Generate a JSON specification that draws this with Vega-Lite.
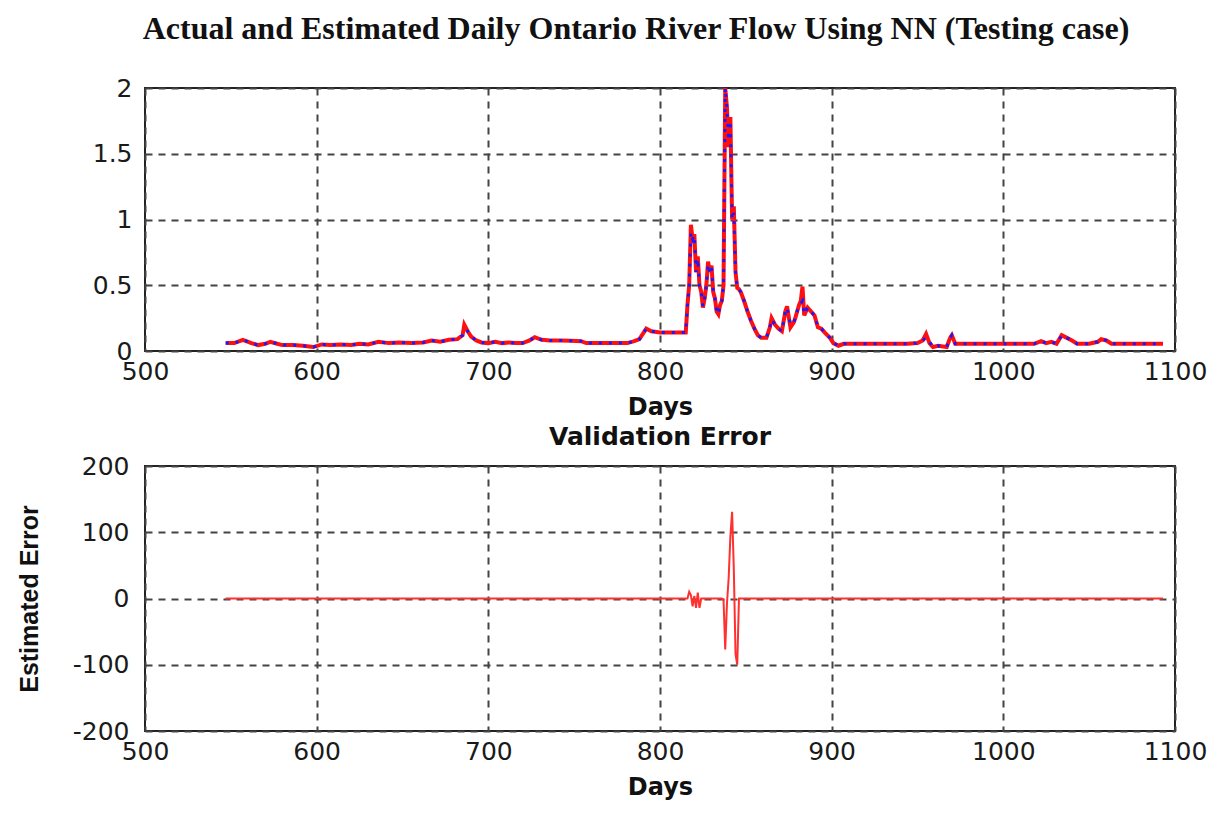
{
  "$schema": "https://vega.github.io/schema/vega-lite/v6.json",
  "background": "white",
  "padding": {"left": 16, "top": 13, "right": 5, "bottom": 5},
  "title": {
    "text": "Actual and Estimated Daily Ontario River Flow Using NN (Testing case)",
    "font": "Liberation Serif",
    "fontSize": 32,
    "fontWeight": "bold",
    "color": "#111",
    "anchor": "middle",
    "offset": 29,
    "dx": 24
  },
  "datasets": {
    "flow": [
      {"day": 547, "actual": 0.06, "estimated": 0.06},
      {"day": 552, "actual": 0.06, "estimated": 0.06},
      {"day": 557, "actual": 0.085, "estimated": 0.085},
      {"day": 562, "actual": 0.06, "estimated": 0.06},
      {"day": 566, "actual": 0.045, "estimated": 0.045},
      {"day": 570, "actual": 0.055, "estimated": 0.055},
      {"day": 573, "actual": 0.07, "estimated": 0.07},
      {"day": 577, "actual": 0.055, "estimated": 0.055},
      {"day": 580, "actual": 0.045, "estimated": 0.045},
      {"day": 586, "actual": 0.045, "estimated": 0.045},
      {"day": 592, "actual": 0.04, "estimated": 0.04},
      {"day": 598, "actual": 0.03, "estimated": 0.03},
      {"day": 603, "actual": 0.05, "estimated": 0.05},
      {"day": 608, "actual": 0.045, "estimated": 0.045},
      {"day": 614, "actual": 0.05, "estimated": 0.05},
      {"day": 620, "actual": 0.045, "estimated": 0.045},
      {"day": 625, "actual": 0.055, "estimated": 0.055},
      {"day": 630, "actual": 0.05, "estimated": 0.05},
      {"day": 636, "actual": 0.07, "estimated": 0.07},
      {"day": 642, "actual": 0.06, "estimated": 0.06},
      {"day": 648, "actual": 0.065, "estimated": 0.065},
      {"day": 655, "actual": 0.06, "estimated": 0.06},
      {"day": 662, "actual": 0.065, "estimated": 0.065},
      {"day": 667, "actual": 0.08, "estimated": 0.08},
      {"day": 672, "actual": 0.07, "estimated": 0.07},
      {"day": 677, "actual": 0.085, "estimated": 0.085},
      {"day": 682, "actual": 0.09, "estimated": 0.09},
      {"day": 685, "actual": 0.12, "estimated": 0.12},
      {"day": 686, "actual": 0.2, "estimated": 0.16},
      {"day": 688, "actual": 0.15, "estimated": 0.15},
      {"day": 690, "actual": 0.11, "estimated": 0.11},
      {"day": 693, "actual": 0.08, "estimated": 0.08},
      {"day": 696, "actual": 0.065, "estimated": 0.065},
      {"day": 700, "actual": 0.06, "estimated": 0.06},
      {"day": 704, "actual": 0.07, "estimated": 0.07},
      {"day": 708, "actual": 0.06, "estimated": 0.06},
      {"day": 712, "actual": 0.065, "estimated": 0.065},
      {"day": 716, "actual": 0.06, "estimated": 0.06},
      {"day": 720, "actual": 0.06, "estimated": 0.06},
      {"day": 724, "actual": 0.08, "estimated": 0.08},
      {"day": 727, "actual": 0.105, "estimated": 0.105},
      {"day": 731, "actual": 0.085, "estimated": 0.085},
      {"day": 736, "actual": 0.08, "estimated": 0.08},
      {"day": 742, "actual": 0.08, "estimated": 0.08},
      {"day": 748, "actual": 0.078, "estimated": 0.078},
      {"day": 754, "actual": 0.075, "estimated": 0.075},
      {"day": 757, "actual": 0.06, "estimated": 0.06},
      {"day": 764, "actual": 0.06, "estimated": 0.06},
      {"day": 770, "actual": 0.06, "estimated": 0.06},
      {"day": 776, "actual": 0.06, "estimated": 0.06},
      {"day": 781, "actual": 0.06, "estimated": 0.06},
      {"day": 785, "actual": 0.075, "estimated": 0.075},
      {"day": 788, "actual": 0.09, "estimated": 0.09},
      {"day": 790, "actual": 0.13, "estimated": 0.13},
      {"day": 792, "actual": 0.17, "estimated": 0.17},
      {"day": 795, "actual": 0.15, "estimated": 0.15},
      {"day": 800, "actual": 0.14, "estimated": 0.14},
      {"day": 805, "actual": 0.14, "estimated": 0.14},
      {"day": 810, "actual": 0.14, "estimated": 0.14},
      {"day": 815, "actual": 0.14, "estimated": 0.14},
      {"day": 816, "actual": 0.35, "estimated": 0.35},
      {"day": 817, "actual": 0.5, "estimated": 0.5},
      {"day": 818, "actual": 0.96, "estimated": 0.9},
      {"day": 819, "actual": 0.85, "estimated": 0.85},
      {"day": 820, "actual": 0.89, "estimated": 0.88},
      {"day": 821, "actual": 0.6, "estimated": 0.6},
      {"day": 822, "actual": 0.72, "estimated": 0.7},
      {"day": 823, "actual": 0.5, "estimated": 0.5},
      {"day": 824, "actual": 0.45, "estimated": 0.45},
      {"day": 825, "actual": 0.33, "estimated": 0.34},
      {"day": 826, "actual": 0.4, "estimated": 0.4},
      {"day": 827, "actual": 0.5, "estimated": 0.5},
      {"day": 828, "actual": 0.68, "estimated": 0.66},
      {"day": 829, "actual": 0.6, "estimated": 0.6},
      {"day": 830, "actual": 0.65, "estimated": 0.64},
      {"day": 831, "actual": 0.45, "estimated": 0.45},
      {"day": 832, "actual": 0.4, "estimated": 0.4},
      {"day": 833, "actual": 0.3, "estimated": 0.3},
      {"day": 834, "actual": 0.28, "estimated": 0.28},
      {"day": 835, "actual": 0.35, "estimated": 0.35},
      {"day": 836, "actual": 0.38, "estimated": 0.38},
      {"day": 837, "actual": 0.5, "estimated": 0.5},
      {"day": 838, "actual": 2.0, "estimated": 2.0},
      {"day": 839, "actual": 1.85, "estimated": 1.85},
      {"day": 840, "actual": 1.55, "estimated": 1.6},
      {"day": 841, "actual": 1.78, "estimated": 1.75},
      {"day": 842, "actual": 1.0, "estimated": 1.0},
      {"day": 843, "actual": 1.1, "estimated": 1.05},
      {"day": 844, "actual": 0.6, "estimated": 0.6},
      {"day": 845, "actual": 0.48, "estimated": 0.48},
      {"day": 846, "actual": 0.47, "estimated": 0.47},
      {"day": 847, "actual": 0.45, "estimated": 0.45},
      {"day": 849, "actual": 0.38, "estimated": 0.38},
      {"day": 851, "actual": 0.3, "estimated": 0.3},
      {"day": 853, "actual": 0.23, "estimated": 0.23},
      {"day": 855, "actual": 0.17, "estimated": 0.17},
      {"day": 857, "actual": 0.12, "estimated": 0.12},
      {"day": 859, "actual": 0.1, "estimated": 0.1},
      {"day": 862, "actual": 0.1, "estimated": 0.1},
      {"day": 864, "actual": 0.18, "estimated": 0.18},
      {"day": 865, "actual": 0.25, "estimated": 0.24},
      {"day": 867, "actual": 0.2, "estimated": 0.2},
      {"day": 869, "actual": 0.17, "estimated": 0.17},
      {"day": 871, "actual": 0.15, "estimated": 0.15},
      {"day": 873, "actual": 0.3, "estimated": 0.3},
      {"day": 874, "actual": 0.34, "estimated": 0.33},
      {"day": 876, "actual": 0.18, "estimated": 0.2},
      {"day": 878, "actual": 0.22, "estimated": 0.22},
      {"day": 879, "actual": 0.26, "estimated": 0.26},
      {"day": 881, "actual": 0.35, "estimated": 0.35},
      {"day": 882, "actual": 0.38, "estimated": 0.36},
      {"day": 883, "actual": 0.49, "estimated": 0.38},
      {"day": 884, "actual": 0.27, "estimated": 0.28},
      {"day": 886, "actual": 0.33, "estimated": 0.33},
      {"day": 888, "actual": 0.3, "estimated": 0.3},
      {"day": 890, "actual": 0.27, "estimated": 0.27},
      {"day": 892, "actual": 0.18, "estimated": 0.18},
      {"day": 894, "actual": 0.17, "estimated": 0.17},
      {"day": 896, "actual": 0.14, "estimated": 0.14},
      {"day": 899, "actual": 0.1, "estimated": 0.1},
      {"day": 901, "actual": 0.06, "estimated": 0.06},
      {"day": 904, "actual": 0.04, "estimated": 0.04},
      {"day": 907, "actual": 0.055, "estimated": 0.055},
      {"day": 912, "actual": 0.055, "estimated": 0.055},
      {"day": 918, "actual": 0.055, "estimated": 0.055},
      {"day": 925, "actual": 0.055, "estimated": 0.055},
      {"day": 932, "actual": 0.055, "estimated": 0.055},
      {"day": 938, "actual": 0.055, "estimated": 0.055},
      {"day": 944, "actual": 0.055, "estimated": 0.055},
      {"day": 950, "actual": 0.06, "estimated": 0.06},
      {"day": 953, "actual": 0.08, "estimated": 0.08},
      {"day": 955, "actual": 0.13, "estimated": 0.1},
      {"day": 957, "actual": 0.06, "estimated": 0.07},
      {"day": 959, "actual": 0.03, "estimated": 0.03},
      {"day": 962, "actual": 0.04, "estimated": 0.04},
      {"day": 967, "actual": 0.03, "estimated": 0.03},
      {"day": 969, "actual": 0.1, "estimated": 0.1},
      {"day": 970, "actual": 0.12, "estimated": 0.12},
      {"day": 972, "actual": 0.055, "estimated": 0.055},
      {"day": 980, "actual": 0.055, "estimated": 0.055},
      {"day": 990, "actual": 0.055, "estimated": 0.055},
      {"day": 1000, "actual": 0.055, "estimated": 0.055},
      {"day": 1010, "actual": 0.055, "estimated": 0.055},
      {"day": 1018, "actual": 0.055, "estimated": 0.055},
      {"day": 1022, "actual": 0.075, "estimated": 0.075},
      {"day": 1025, "actual": 0.06, "estimated": 0.06},
      {"day": 1028, "actual": 0.07, "estimated": 0.07},
      {"day": 1031, "actual": 0.055, "estimated": 0.055},
      {"day": 1034, "actual": 0.12, "estimated": 0.12},
      {"day": 1037, "actual": 0.1, "estimated": 0.1},
      {"day": 1040, "actual": 0.08, "estimated": 0.08},
      {"day": 1043, "actual": 0.055, "estimated": 0.055},
      {"day": 1050, "actual": 0.055, "estimated": 0.055},
      {"day": 1055, "actual": 0.07, "estimated": 0.07},
      {"day": 1057, "actual": 0.09, "estimated": 0.09},
      {"day": 1060, "actual": 0.08, "estimated": 0.08},
      {"day": 1063, "actual": 0.055, "estimated": 0.055},
      {"day": 1070, "actual": 0.055, "estimated": 0.055},
      {"day": 1078, "actual": 0.055, "estimated": 0.055},
      {"day": 1086, "actual": 0.055, "estimated": 0.055},
      {"day": 1093, "actual": 0.055, "estimated": 0.055}
    ],
    "err": [
      {"day": 547, "error": 0},
      {"day": 816, "error": 0},
      {"day": 817, "error": 10},
      {"day": 818, "error": 5},
      {"day": 819, "error": -12},
      {"day": 820, "error": 4},
      {"day": 821, "error": -14},
      {"day": 822, "error": 9},
      {"day": 823, "error": -14},
      {"day": 824, "error": 0},
      {"day": 836, "error": 0},
      {"day": 837, "error": -2},
      {"day": 838, "error": -77},
      {"day": 839, "error": -8},
      {"day": 840, "error": 31},
      {"day": 841, "error": 94},
      {"day": 842, "error": 131},
      {"day": 843, "error": 44},
      {"day": 844, "error": -84},
      {"day": 845, "error": -100},
      {"day": 846, "error": 0},
      {"day": 1093, "error": 0}
    ]
  },
  "bounds": "flush",
  "spacing": 115,
  "vconcat": [
    {
      "width": 1030,
      "height": 263,
      "data": {"name": "flow"},
      "layer": [
        {
          "mark": {"type": "line", "color": "#ff1010", "strokeWidth": 4},
          "encoding": {
            "x": {"field": "day", "type": "quantitative", "scale": {"domain": [500, 1100], "nice": false},
              "axis": {"values": [500, 600, 700, 800, 900, 1000, 1100], "format": "d", "title": "Days"}},
            "y": {"field": "actual", "type": "quantitative", "scale": {"domain": [0, 2], "nice": false},
              "axis": {"values": [0, 0.5, 1, 1.5, 2], "format": "~g", "title": null, "labelPadding": 13}}
          }
        },
        {
          "mark": {"type": "line", "color": "#1a1aff", "strokeWidth": 3, "strokeDash": [3, 7]},
          "encoding": {
            "x": {"field": "day", "type": "quantitative"},
            "y": {"field": "estimated", "type": "quantitative", "title": null}
          }
        }
      ]
    },
    {
      "width": 1030,
      "height": 265,
      "data": {"name": "err"},
      "title": {"text": "Validation Error", "font": "DejaVu Sans", "fontSize": 25, "fontWeight": "bold", "color": "#111", "offset": 4},
      "mark": {"type": "line", "color": "#ff3030", "strokeWidth": 2},
      "encoding": {
        "x": {"field": "day", "type": "quantitative", "scale": {"domain": [500, 1100], "nice": false},
          "axis": {"values": [500, 600, 700, 800, 900, 1000, 1100], "format": "d", "title": "Days"}},
        "y": {"field": "error", "type": "quantitative", "scale": {"domain": [-200, 200], "nice": false},
          "axis": {"values": [-200, -100, 0, 100, 200], "labelExpr": "'' + datum.value", "title": "Estimated Error",
            "titleFont": "Liberation Sans", "titleFontSize": 25, "titlePadding": 30, "labelPadding": 16}}
      }
    }
  ],
  "config": {
    "view": {"stroke": "#222", "strokeWidth": 2},
    "axis": {
      "domain": false,
      "ticks": false,
      "grid": true,
      "gridColor": "#444",
      "gridDash": [7, 6],
      "gridWidth": 2,
      "gridOpacity": 1,
      "labelFont": "DejaVu Sans",
      "labelFontSize": 25,
      "labelColor": "#1a1a1a",
      "labelFlush": false,
      "labelOverlap": false,
      "labelBound": false,
      "titleFont": "DejaVu Sans",
      "titleFontSize": 24,
      "titleFontWeight": "bold",
      "titleColor": "#111"
    },
    "axisX": {"labelPadding": 8, "titlePadding": 11},
    "axisY": {"labelPadding": 13}
  }
}
